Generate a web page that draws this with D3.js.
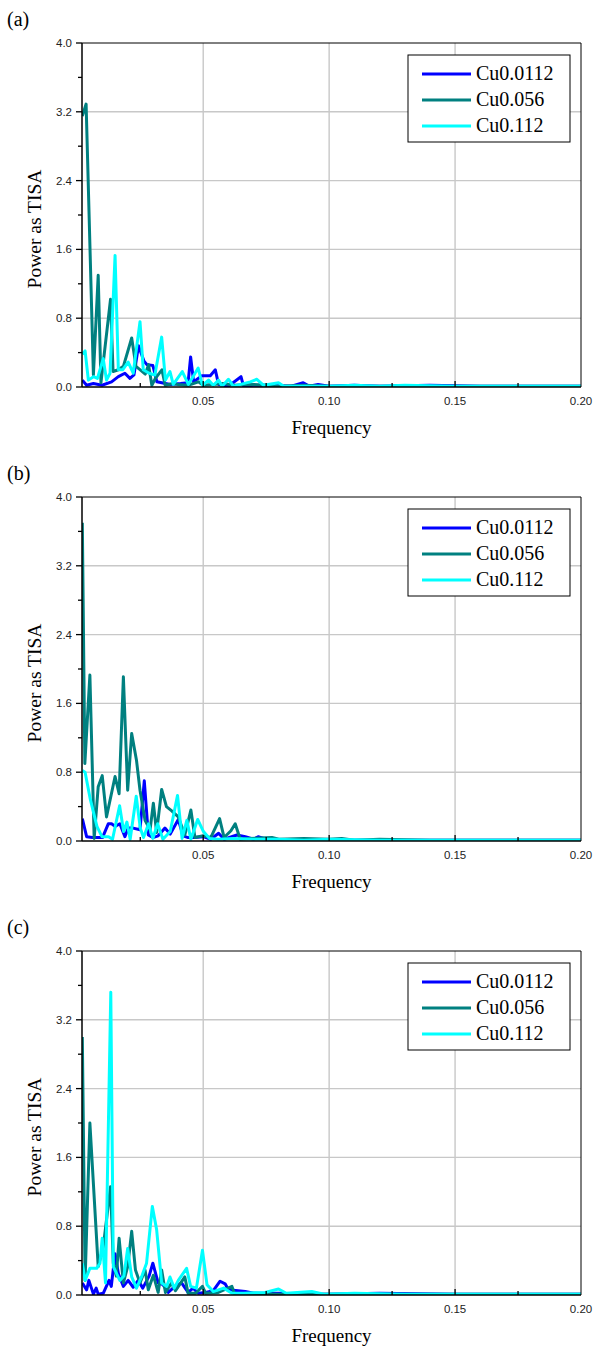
<!DOCTYPE html>
<html>
<head>
<meta charset="utf-8">
<script src="https://cdn.jsdelivr.net/npm/d3@7"></script>
<style>
  body { margin: 0; background: #fff; }
  svg { display: block; }
</style>
</head>
<body>
<svg id="chart" width="593" height="1346"></svg>
<script>
// series names and tick values
const seriesNames = ["Cu0.0112", "Cu0.056", "Cu0.112"];
const freqTicks = [0.05, 0.10, 0.15, 0.20];
const freqMinor = [0.025, 0.075, 0.125, 0.175];
const powerTicks = [0, 0.8, 1.6, 2.4, 3.2, 4.0];
const powerMinor = [0.4, 1.2, 2.0, 2.8, 3.6];
const panelLabels = ["(a)", "(b)", "(c)"];

// [frequency, power]
const a_Cu0112 = [[0.0020,0.08],[0.0037,0.02],[0.0064,0.04],[0.0098,0.02],[0.0136,0.06],[0.0163,0.12],[0.0189,0.16],[0.0209,0.10],[0.0225,0.14],[0.0243,0.48],[0.0265,0.30],[0.0277,0.26],[0.0300,0.25],[0.0316,0.06],[0.0350,0.04],[0.0369,0.03],[0.0410,0.04],[0.0440,0.05],[0.0450,0.35],[0.0462,0.06],[0.0480,0.10],[0.0495,0.13],[0.0528,0.13],[0.0548,0.20],[0.0561,0.03],[0.0600,0.01],[0.0650,0.12],[0.0660,0.01],[0.0700,0.02],[0.0760,0.02],[0.0850,0.01],[0.0897,0.05],[0.0920,0.01],[0.0956,0.03],[0.1000,0.01],[0.1100,0.02],[0.1200,0.01],[0.1400,0.02],[0.1600,0.01],[0.1800,0.01],[0.2000,0.01]];
const a_Cu056 = [[0.0020,3.15],[0.0035,3.29],[0.0064,0.14],[0.0083,1.30],[0.0094,0.05],[0.0132,1.02],[0.0142,0.18],[0.0163,0.20],[0.0183,0.24],[0.0216,0.57],[0.0233,0.24],[0.0250,0.20],[0.0270,0.15],[0.0283,0.26],[0.0296,0.02],[0.0310,0.10],[0.0336,0.20],[0.0349,0.02],[0.0380,0.04],[0.0400,0.03],[0.0440,0.02],[0.0481,0.06],[0.0500,0.02],[0.0540,0.03],[0.0580,0.04],[0.0620,0.02],[0.0700,0.03],[0.0800,0.01],[0.0900,0.02],[0.1000,0.01],[0.1200,0.01],[0.1500,0.01],[0.2000,0.01]];
const a_Cu112 = [[0.0020,0.38],[0.0031,0.42],[0.0044,0.08],[0.0064,0.12],[0.0080,0.10],[0.0103,0.33],[0.0116,0.08],[0.0130,0.16],[0.0150,1.53],[0.0163,0.20],[0.0180,0.20],[0.0202,0.29],[0.0222,0.16],[0.0249,0.76],[0.0262,0.20],[0.0285,0.16],[0.0308,0.14],[0.0335,0.58],[0.0350,0.08],[0.0368,0.18],[0.0381,0.03],[0.0417,0.18],[0.0441,0.03],[0.0480,0.22],[0.0497,0.02],[0.0521,0.08],[0.0540,0.02],[0.0561,0.08],[0.0575,0.01],[0.0600,0.09],[0.0620,0.01],[0.0687,0.06],[0.0713,0.09],[0.0740,0.02],[0.0799,0.05],[0.0820,0.01],[0.0900,0.01],[0.1000,0.01],[0.1100,0.02],[0.1200,0.01],[0.1300,0.02],[0.1500,0.01],[0.2000,0.01]];

const b_Cu0112 = [[0.0020,0.26],[0.0037,0.05],[0.0060,0.04],[0.0100,0.04],[0.0123,0.20],[0.0136,0.20],[0.0150,0.17],[0.0169,0.20],[0.0189,0.05],[0.0202,0.15],[0.0222,0.15],[0.0249,0.13],[0.0266,0.70],[0.0282,0.07],[0.0300,0.04],[0.0321,0.06],[0.0348,0.15],[0.0369,0.08],[0.0401,0.25],[0.0420,0.06],[0.0440,0.04],[0.0465,0.04],[0.0500,0.05],[0.0530,0.02],[0.0561,0.09],[0.0583,0.02],[0.0634,0.07],[0.0667,0.05],[0.0700,0.02],[0.0718,0.05],[0.0750,0.02],[0.0800,0.01],[0.1000,0.01],[0.1500,0.01],[0.2000,0.01]];
const b_Cu056 = [[0.0020,3.70],[0.0030,0.90],[0.0050,1.93],[0.0067,0.03],[0.0083,0.63],[0.0099,0.76],[0.0116,0.28],[0.0150,0.75],[0.0166,0.55],[0.0183,1.91],[0.0200,0.59],[0.0216,1.25],[0.0235,0.94],[0.0249,0.59],[0.0269,0.24],[0.0289,0.13],[0.0302,0.44],[0.0315,0.10],[0.0335,0.60],[0.0354,0.40],[0.0375,0.35],[0.0401,0.28],[0.0427,0.07],[0.0451,0.36],[0.0467,0.04],[0.0500,0.06],[0.0530,0.04],[0.0565,0.26],[0.0583,0.04],[0.0610,0.12],[0.0627,0.20],[0.0647,0.02],[0.0680,0.03],[0.0773,0.04],[0.0800,0.02],[0.0900,0.03],[0.1000,0.02],[0.1050,0.03],[0.1100,0.01],[0.1200,0.02],[0.1400,0.01],[0.1600,0.01],[0.2000,0.01]];
const b_Cu112 = [[0.0020,0.82],[0.0031,0.80],[0.0052,0.48],[0.0078,0.17],[0.0098,0.05],[0.0124,0.05],[0.0140,0.02],[0.0168,0.41],[0.0184,0.11],[0.0197,0.22],[0.0210,0.02],[0.0234,0.52],[0.0250,0.15],[0.0263,0.04],[0.0283,0.20],[0.0300,0.03],[0.0319,0.20],[0.0340,0.02],[0.0369,0.11],[0.0398,0.53],[0.0416,0.03],[0.0435,0.24],[0.0451,0.02],[0.0478,0.25],[0.0501,0.11],[0.0525,0.03],[0.0560,0.02],[0.0620,0.03],[0.0700,0.02],[0.0800,0.02],[0.0900,0.01],[0.1000,0.02],[0.1200,0.01],[0.1500,0.01],[0.2000,0.01]];

const c_Cu0112 = [[0.0020,0.14],[0.0037,0.06],[0.0046,0.17],[0.0064,0.01],[0.0075,0.08],[0.0083,0.01],[0.0103,0.02],[0.0126,0.17],[0.0135,0.10],[0.0150,0.48],[0.0163,0.25],[0.0183,0.10],[0.0202,0.17],[0.0222,0.09],[0.0242,0.17],[0.0260,0.08],[0.0285,0.22],[0.0300,0.37],[0.0321,0.14],[0.0340,0.12],[0.0361,0.03],[0.0388,0.10],[0.0414,0.14],[0.0440,0.03],[0.0460,0.08],[0.0480,0.02],[0.0510,0.03],[0.0540,0.05],[0.0567,0.16],[0.0587,0.13],[0.0600,0.06],[0.0667,0.04],[0.0700,0.02],[0.0800,0.02],[0.0900,0.01],[0.1000,0.01],[0.1200,0.02],[0.1500,0.01],[0.2000,0.01]];
const c_Cu056 = [[0.0020,3.00],[0.0031,0.17],[0.0050,2.00],[0.0083,0.33],[0.0103,0.56],[0.0132,1.26],[0.0143,0.37],[0.0155,0.22],[0.0166,0.66],[0.0183,0.14],[0.0200,0.33],[0.0216,0.74],[0.0231,0.29],[0.0249,0.14],[0.0269,0.29],[0.0282,0.06],[0.0302,0.23],[0.0321,0.03],[0.0335,0.29],[0.0350,0.03],[0.0374,0.14],[0.0390,0.05],[0.0427,0.21],[0.0440,0.02],[0.0470,0.02],[0.0497,0.10],[0.0510,0.02],[0.0560,0.03],[0.0614,0.10],[0.0625,0.01],[0.0700,0.02],[0.0800,0.01],[0.1000,0.01],[0.1500,0.01],[0.2000,0.01]];
const c_Cu112 = [[0.0020,0.37],[0.0031,0.17],[0.0050,0.31],[0.0077,0.31],[0.0090,0.37],[0.0099,0.66],[0.0112,0.14],[0.0133,3.52],[0.0143,0.33],[0.0169,0.17],[0.0185,0.22],[0.0200,0.54],[0.0216,0.21],[0.0235,0.08],[0.0255,0.21],[0.0275,0.37],[0.0298,1.03],[0.0315,0.76],[0.0335,0.14],[0.0355,0.10],[0.0368,0.21],[0.0385,0.08],[0.0401,0.17],[0.0434,0.31],[0.0450,0.10],[0.0473,0.08],[0.0497,0.52],[0.0515,0.12],[0.0540,0.04],[0.0581,0.08],[0.0614,0.02],[0.0660,0.02],[0.0746,0.03],[0.0799,0.07],[0.0830,0.02],[0.0931,0.04],[0.0980,0.01],[0.1100,0.02],[0.1300,0.01],[0.1600,0.01],[0.2000,0.01]];

const panels = [
  [a_Cu0112, a_Cu056, a_Cu112],
  [b_Cu0112, b_Cu056, b_Cu112],
  [c_Cu0112, c_Cu056, c_Cu112]
];

const colors = ["#0000ff", "#008080", "#00ffff"];

const svg = d3.select("#chart");
const left = 82, right = 581, plotH = 344, panelStep = 454, firstTop = 43;
const serif = "'Liberation Serif', 'Times New Roman', serif";
const sans = "'Liberation Sans', Arial, sans-serif";

const x = d3.scaleLinear().domain([0.00187, 0.2]).range([left, right]);

panels.forEach((series, k) => {
  const top = firstTop + k * panelStep;
  const y = d3.scaleLinear().domain([0, 4]).range([top + plotH, top]);
  const g = svg.append("g");

  // grille
  g.selectAll("line.vg").data(freqTicks.slice(0, 3)).enter().append("line")
    .attr("x1", d => x(d)).attr("x2", d => x(d))
    .attr("y1", top).attr("y2", top + plotH)
    .attr("stroke", "#c8c8c8").attr("stroke-width", 1.4);
  g.selectAll("line.hg").data(powerTicks.slice(1, 5)).enter().append("line")
    .attr("x1", left).attr("x2", right)
    .attr("y1", d => y(d)).attr("y2", d => y(d))
    .attr("stroke", "#c8c8c8").attr("stroke-width", 1.4);

  // courbes
  const clipId = "clip" + k;
  svg.append("clipPath").attr("id", clipId).append("rect")
    .attr("x", left).attr("y", top).attr("width", right - left).attr("height", plotH);

  const line = d3.line().x(d => x(d[0])).y(d => y(d[1]));
  series.forEach((s, i) => {
    g.append("path")
      .datum(s)
      .attr("clip-path", `url(#${clipId})`)
      .attr("d", line)
      .attr("fill", "none")
      .attr("stroke", colors[i])
      .attr("stroke-width", 3)
      .attr("stroke-linejoin", "round");
  });

  // cadre
  g.append("line").attr("x1", left).attr("x2", right).attr("y1", top).attr("y2", top)
    .attr("stroke", "#000").attr("stroke-width", 1);
  g.append("line").attr("x1", right).attr("x2", right).attr("y1", top).attr("y2", top + plotH)
    .attr("stroke", "#000").attr("stroke-width", 1);

  // axe X (ticks vers l'intérieur)
  const xAxis = g.append("g").attr("transform", `translate(0,${top + plotH})`);
  xAxis.append("line").attr("x1", left).attr("x2", right).attr("stroke", "#000").attr("stroke-width", 1.5);
  xAxis.selectAll("line.maj").data(freqTicks.slice(0, 3)).enter().append("line")
    .attr("x1", d => x(d)).attr("x2", d => x(d)).attr("y1", 0).attr("y2", -6)
    .attr("stroke", "#000").attr("stroke-width", 1.3);
  xAxis.selectAll("line.min").data(freqMinor).enter().append("line")
    .attr("x1", d => x(d)).attr("x2", d => x(d)).attr("y1", 0).attr("y2", -4)
    .attr("stroke", "#000").attr("stroke-width", 1.3);
  xAxis.selectAll("text").data(freqTicks).enter().append("text")
    .attr("x", d => x(d)).attr("y", 18)
    .attr("text-anchor", "middle")
    .style("font-family", sans).style("font-size", "11.5px").attr("fill", "#222")
    .text(d => d3.format(".2f")(d));

  // axe Y (ticks vers l'extérieur)
  const yAxis = g.append("g").attr("transform", `translate(${left},0)`);
  yAxis.append("line").attr("y1", top).attr("y2", top + plotH).attr("stroke", "#000").attr("stroke-width", 1.5);
  yAxis.selectAll("line.maj").data(powerTicks).enter().append("line")
    .attr("x1", 0).attr("x2", -6).attr("y1", d => y(d)).attr("y2", d => y(d))
    .attr("stroke", "#000").attr("stroke-width", 1.3);
  yAxis.selectAll("line.min").data(powerMinor).enter().append("line")
    .attr("x1", 0).attr("x2", -4).attr("y1", d => y(d)).attr("y2", d => y(d))
    .attr("stroke", "#000").attr("stroke-width", 1.3);
  yAxis.selectAll("text").data(powerTicks).enter().append("text")
    .attr("x", -10).attr("y", d => y(d) + 4)
    .attr("text-anchor", "end")
    .style("font-family", sans).style("font-size", "11.5px").attr("fill", "#222")
    .text(d => d3.format(".1f")(d));

  // titres d'axes
  g.append("text")
    .attr("x", (left + right) / 2).attr("y", top + plotH + 47)
    .attr("text-anchor", "middle")
    .style("font-family", serif).style("font-size", "19px")
    .text("Frequency");
  g.append("text")
    .attr("transform", `translate(41,${top + 186}) rotate(-90)`)
    .attr("text-anchor", "middle")
    .style("font-family", serif).style("font-size", "19.5px")
    .text("Power as TISA");

  // étiquette du panneau
  g.append("text")
    .attr("x", 7).attr("y", top - 17)
    .style("font-family", serif).style("font-size", "20px")
    .text(panelLabels[k]);

  // légende
  const lg = g.append("g").attr("transform", `translate(408,${top + 12})`);
  lg.append("rect").attr("width", 162).attr("height", 87)
    .attr("fill", "#fff").attr("stroke", "#000").attr("stroke-width", 1);
  seriesNames.forEach((name, i) => {
    const ly = 19 + i * 26;
    lg.append("line").attr("x1", 14).attr("x2", 63).attr("y1", ly).attr("y2", ly)
      .attr("stroke", colors[i]).attr("stroke-width", 3);
    lg.append("text").attr("x", 68).attr("y", ly + 6)
      .style("font-family", serif).style("font-size", "20px")
      .text(name);
  });
});
</script>
</body>
</html>
